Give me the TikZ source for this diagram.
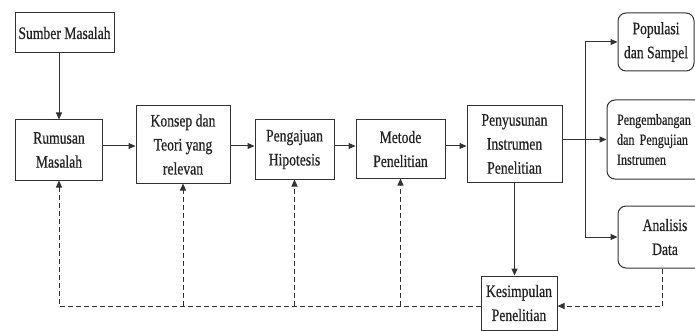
\documentclass[tikz,border=0pt]{standalone}
\usepackage{fontspec}
\setmainfont{Liberation Serif}[FakeStretch=0.78, FakeBold=0.6]
\usepackage{tikz}
\usetikzlibrary{arrows.meta, positioning, calc}
\usepackage{xcolor}
\definecolor{lineclr}{RGB}{50,50,50}
\definecolor{textclr}{RGB}{35,35,35}

\begin{document}
\begin{tikzpicture}[x=1pt, y=-1pt,
    box/.style={draw=lineclr, line width=1pt, text=textclr, align=center,
      font=\fontsize{17.5}{24}\selectfont, inner sep=0pt},
    rbox/.style={box, rounded corners=8pt},
    arr/.style={draw=lineclr, line width=1pt, -{Triangle[length=7pt, width=6pt]}},
    dasharr/.style={arr, dash pattern=on 5pt off 3pt}]
        \useasboundingbox (0,0) rectangle (695,331);
        % main chain
        \node[box, minimum width=99pt, minimum height=40pt] (sumber) at (64.5,33) {Sumber Masalah};
        \node[box, minimum width=87pt, minimum height=60pt] (rumusan) at (59,150) {Rumusan\\Masalah};
        \node[box, minimum width=94pt, minimum height=77pt] (konsep) at (183,144.5) {Konsep dan\\Teori yang\\relevan};
        \node[box, minimum width=79pt, minimum height=59pt] (pengajuan) at (294.5,149.5) {Pengajuan\\Hipotesis};
        \node[box, minimum width=89pt, minimum height=58pt] (metode) at (400.5,149) {Metode\\Penelitian};
        \node[box, minimum width=95pt, minimum height=76pt] (penyusunan) at (514.5,144) {Penyusunan\\Instrumen\\Penelitian};
        \node[box, minimum width=76pt, minimum height=54pt] (kesimpulan) at (519,303) {Kesimpulan\\Penelitian};
        % right column
        \node[rbox, minimum width=76pt, minimum height=58pt] (populasi) at (656,42) {Populasi\\dan Sampel};
        \node[rbox, minimum width=96pt, minimum height=79pt, text width=76pt, align=left,
          font=\fontsize{15.5}{20}\selectfont] (pengembangan) at (655,139.5) {Pengembangan\\dan Pengujian\\Instrumen};
        \node[rbox, minimum width=94pt, minimum height=62pt] (analisis) at (665,237) {Analisis\\Data};

        \coordinate (row) at (0,146);
        \coordinate (spine) at (585,0);
        \coordinate (fb) at (0,306);

        \draw[arr] (sumber.south -| rumusan.north) -- (rumusan.north);
        \draw[arr] (rumusan.east |- row) -- (konsep.west |- row);
        \draw[arr] (konsep.east |- row) -- (pengajuan.west |- row);
        \draw[arr] (pengajuan.east |- row) -- (metode.west |- row);
        \draw[arr] (metode.east |- row) -- (penyusunan.west |- row);
        \draw[arr] (penyusunan.east |- pengembangan.west) -- (pengembangan.west);
        \draw[lineclr, line width=1pt] (spine |- populasi.west) -- (spine |- analisis.west);
        \draw[arr] (spine |- populasi.west) -- (populasi.west);
        \draw[arr] (spine |- analisis.west) -- (analisis.west);
        \draw[arr] (penyusunan.south) -- (penyusunan.south |- kesimpulan.north);

        % feedback
        \draw[dasharr] (kesimpulan.west |- fb) -- (rumusan.south |- fb) -- (rumusan.south);
        \draw[dasharr] (konsep.south |- fb) -- (konsep.south);
        \draw[dasharr] (pengajuan.south |- fb) -- (pengajuan.south);
        \draw[dasharr] (metode.south |- fb) -- (metode.south);
        \draw[dasharr] ([xshift=-3pt]analisis.south) -- ([xshift=-3pt]analisis.south |- fb) -- (kesimpulan.east |- fb);
      \end{tikzpicture}
\end{document}
